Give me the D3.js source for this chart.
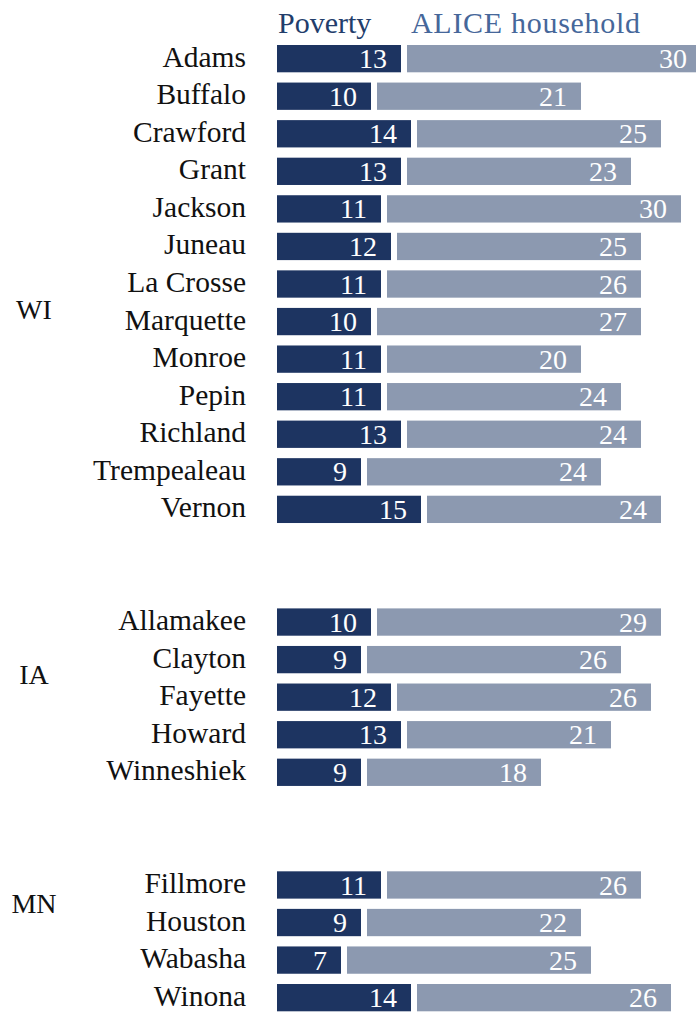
<!DOCTYPE html>
<html>
<head>
<meta charset="utf-8">
<script src="https://cdn.jsdelivr.net/npm/d3@7"></script>
<style>
  html, body { margin: 0; padding: 0; background: #fff; }
  svg { display: block; }
</style>
</head>
<body>
<div id="chart"></div>
<script>
// ---- data ----
const states = ["WI", "IA", "MN"];
const counties = ["Adams","Buffalo","Crawford","Grant","Jackson","Juneau","La Crosse","Marquette","Monroe","Pepin","Richland","Trempealeau","Vernon",
                  "Allamakee","Clayton","Fayette","Howard","Winneshiek",
                  "Fillmore","Houston","Wabasha","Winona"];
const countyState = ["WI","WI","WI","WI","WI","WI","WI","WI","WI","WI","WI","WI","WI",
                     "IA","IA","IA","IA","IA",
                     "MN","MN","MN","MN"];
const poverty = [13,10,14,13,11,12,11,10,11,11,13,9,15, 10,9,12,13,9, 11,9,7,14];
const alice   = [30,21,25,23,30,25,26,27,20,24,24,24,24, 29,26,26,21,18, 26,22,25,26];
const seriesNames = ["Poverty", "ALICE household"];

// ---- layout ----
const W = 696, H = 1013;
const FONT = "'Liberation Serif', 'Times New Roman', 'DejaVu Serif', serif";
const svg = d3.select("#chart").append("svg")
  .attr("width", W).attr("height", H)
  .style("font-family", FONT);

// row index: consecutive within a state, two blank rows between states
const rows = [];
let idx = 0;
counties.forEach((c, i) => {
  if (i > 0 && countyState[i] !== countyState[i - 1]) idx += 2;
  rows.push({ county: c, state: countyState[i], pov: poverty[i], alice: alice[i], row: idx });
  idx++;
});
const nRows = idx;

const x = d3.scaleLinear().domain([0, 10]).range([277, 377]);
const rowStep = 37.56, barTop0 = 45, barH = 27.3;
const y = d3.scaleLinear().domain([0, nRows]).range([barTop0, barTop0 + nRows * rowStep]);
const gap = 6;

const colPov = "#1d3461", colAlice = "#8c99b0";

const g = svg.append("g");
const rowG = g.selectAll("g.row").data(rows).join("g").attr("class", "row");

rowG.append("rect")
  .attr("x", d => x(0))
  .attr("y", d => y(d.row))
  .attr("width", d => x(d.pov) - x(0) - gap)
  .attr("height", barH)
  .attr("fill", colPov);

rowG.append("rect")
  .attr("x", d => x(d.pov))
  .attr("y", d => y(d.row))
  .attr("width", d => x(d.pov + d.alice) - x(d.pov) - gap)
  .attr("height", barH)
  .attr("fill", colAlice);

// value labels
rowG.append("text")
  .attr("x", d => x(d.pov) - gap - 14)
  .attr("y", d => y(d.row) + barH / 2 + 9.6)
  .attr("text-anchor", "end")
  .style("font-family", FONT)
  .attr("font-size", 28)
  .attr("fill", "#fff")
  .text(d => d.pov);

rowG.append("text")
  .attr("x", d => x(d.pov + d.alice) - gap - 14)
  .attr("y", d => y(d.row) + barH / 2 + 9.6)
  .attr("text-anchor", "end")
  .style("font-family", FONT)
  .attr("font-size", 28)
  .attr("fill", "#fff")
  .text(d => d.alice);

// category labels
rowG.append("text")
  .attr("x", 246)
  .attr("y", d => y(d.row) + barH / 2 + 8)
  .attr("text-anchor", "end")
  .style("font-family", FONT)
  .attr("font-size", 29.5)
  .attr("fill", "#111")
  .text(d => d.county);

// group (state) labels
const groupOffset = { WI: 6.68, IA: 16.40, MN: 22.50 };
svg.selectAll("text.state").data(states).join("text")
  .attr("class", "state")
  .attr("x", 34)
  .attr("y", s => y(groupOffset[s]) + barH / 2 + 9.5)
  .attr("text-anchor", "middle")
  .style("font-family", FONT)
  .attr("font-size", 28)
  .attr("fill", "#111")
  .text(s => s);

// legend header
svg.append("text").attr("x", 278).attr("y", 32.5)
  .style("font-family", FONT)
  .attr("font-size", 30).attr("fill", "#223d6b").text(seriesNames[0]);
svg.append("text").attr("x", 411).attr("y", 32.5)
  .style("font-family", FONT)
  .attr("font-size", 30).attr("fill", "#46679a")
  .attr("textLength", 229).attr("lengthAdjust", "spacing")
  .text(seriesNames[1]);
</script>
</body>
</html>
